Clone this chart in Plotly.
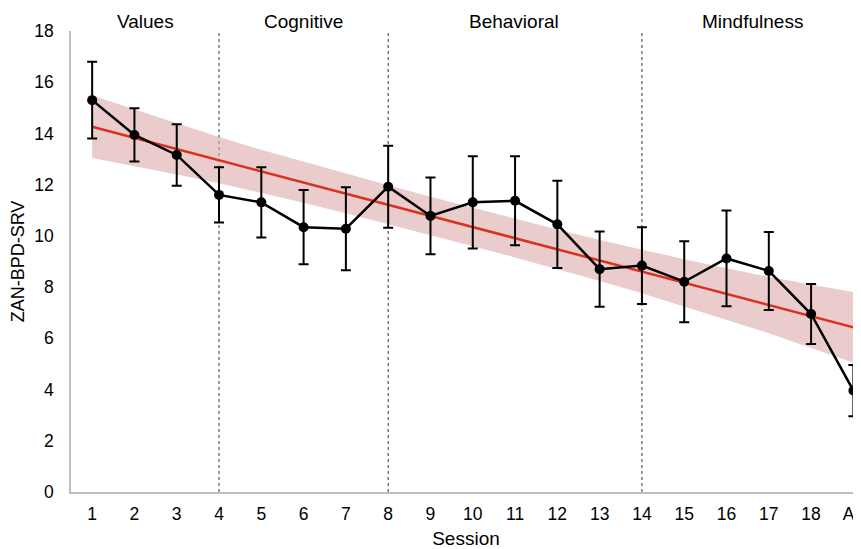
import plotly.graph_objects as go

sessions = ["1", "2", "3", "4", "5", "6", "7", "8", "9", "10", "11", "12",
            "13", "14", "15", "16", "17", "18", "A2"]
means = [15.3, 13.94, 13.16, 11.6, 11.31, 10.34, 10.28, 11.92, 10.78, 11.31,
         11.37, 10.45, 8.7, 8.84, 8.21, 9.12, 8.63, 6.95, 3.96]
errors = [1.5, 1.04, 1.2, 1.08, 1.37, 1.45, 1.62, 1.6, 1.5, 1.8,
          1.74, 1.7, 1.47, 1.5, 1.58, 1.87, 1.52, 1.17, 1.0]
band_upper = [15.48, 14.93, 14.38, 13.86, 13.36, 12.89, 12.42, 11.98, 11.53, 11.10,
              10.66, 10.25, 9.84, 9.46, 9.09, 8.74, 8.40, 8.10, 7.81]
band_lower = [13.04, 12.73, 12.40, 12.06, 11.68, 11.29, 10.88, 10.46, 10.03, 9.60,
              9.16, 8.71, 8.24, 7.76, 7.25, 6.74, 6.20, 5.62, 5.05]
trend_sessions = ["1", "A2"]
trend_values = [14.26, 6.43]
phase_boundaries = ["4", "8", "14"]
phase_labels = ["Values", "Cognitive", "Behavioral", "Mindfulness"]
phase_label_pos = [1.25, 4.99, 9.98, 15.61]  # category-index positions of labels
y_ticks = [0, 2, 4, 6, 8, 10, 12, 14, 16, 18]

FONT = "Liberation Sans, Arial, Helvetica, sans-serif"

fig = go.Figure()

fig.add_trace(go.Scatter(x=sessions, y=band_lower, mode="lines",
                         line=dict(width=0), showlegend=False, hoverinfo="skip"))
fig.add_trace(go.Scatter(x=sessions, y=band_upper, mode="lines",
                         line=dict(width=0), fill="tonexty",
                         fillcolor="rgba(220,170,170,0.6)",
                         showlegend=False, hoverinfo="skip"))
fig.add_trace(go.Scatter(x=trend_sessions, y=trend_values, mode="lines",
                         line=dict(color="#d9301f", width=2.5), showlegend=False))
fig.add_trace(go.Scatter(
    x=sessions, y=means, mode="lines+markers",
    line=dict(color="black", width=2.5),
    marker=dict(color="black", size=10),
    error_y=dict(type="data", array=errors, visible=True,
                 color="black", thickness=2, width=5),
    cliponaxis=False, showlegend=False))

for b in phase_boundaries:
    xi = sessions.index(b)
    fig.add_shape(type="line", xref="x", yref="paper", x0=xi, x1=xi, y0=0, y1=1,
                  line=dict(color="#333333", width=1, dash="3px,3px"), layer="below")

for lab, pos in zip(phase_labels, phase_label_pos):
    fig.add_annotation(x=pos, y=1.02, xref="x", yref="paper", text=lab,
                       showarrow=False, yanchor="middle",
                       font=dict(family=FONT, size=19, color="black"))

# page body has an 8px margin, so the figure is sized to fit the 861x549 window
fig.update_layout(
    width=853, height=541,
    margin=dict(l=63, r=0, t=23, b=57, autoexpand=False),
    paper_bgcolor="white", plot_bgcolor="white",
    font=dict(family=FONT, color="black"),
)
fig.update_xaxes(type="category", categoryorder="array", categoryarray=sessions,
                 range=[-0.5, 18.18], showgrid=False, zeroline=False, automargin=False,
                 showline=True, linecolor="#bfbfbf", linewidth=1.5,
                 ticks="", ticklabelstandoff=5, tickfont=dict(size=17.5, family=FONT),
                 title=dict(text="Session", font=dict(size=19, family=FONT)))
fig.update_yaxes(range=[0, 18], tickvals=y_ticks, showgrid=False, zeroline=False,
                 automargin=False,
                 showline=True, linecolor="#bfbfbf", linewidth=1.5,
                 ticks="", ticklabelstandoff=12, tickfont=dict(size=17.5, family=FONT),
                 title=dict(text="ZAN-BPD-SRV", font=dict(size=18, family=FONT)))

fig.write_html("out.html")
